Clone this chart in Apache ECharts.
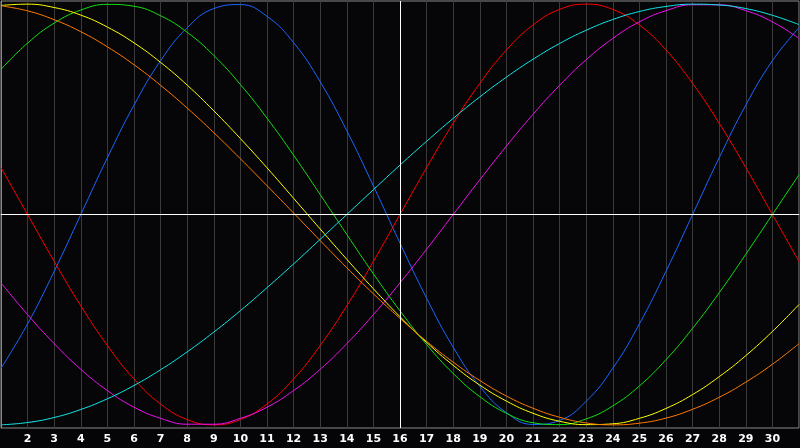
<!DOCTYPE html>
<html>
<head>
<meta charset="utf-8">
<script src="https://cdn.jsdelivr.net/npm/echarts@6/dist/echarts.min.js"></script>
<style>
html,body{margin:0;padding:0;background:#050507;}
#c{width:800px;height:448px;}
</style>
</head>
<body>
<div id="c"></div>
<script>
// days of the month (x values)
var days = [1,2,3,4,5,6,7,8,9,10,11,12,13,14,15,16,17,18,19,20,21,22,23,24,25,26,27,28,29,30,31];

var physical = [-0.731,-0.520,-0.270,0,0.270,0.520,0.731,0.888,0.979,0.998,0.942,0.817,0.631,0.398,0.136,-0.136,-0.398,-0.631,-0.817,-0.942,-0.998,-0.979,-0.888,-0.731,-0.520,-0.270,0,0.270,0.520,0.731,0.888];
var emotional = [0.223,0,-0.223,-0.434,-0.623,-0.782,-0.901,-0.975,-1,-0.975,-0.901,-0.782,-0.623,-0.434,-0.223,0,0.223,0.434,0.623,0.782,0.901,0.975,1,0.975,0.901,0.782,0.623,0.434,0.223,0,-0.223];
var intellectual = [0.690,0.815,0.910,0.972,0.999,0.990,0.945,0.866,0.756,0.618,0.458,0.282,0.095,-0.095,-0.282,-0.458,-0.618,-0.756,-0.866,-0.945,-0.990,-0.999,-0.972,-0.910,-0.815,-0.690,-0.541,-0.372,-0.189,0,0.189];
var intuitive = [-0.325,-0.476,-0.614,-0.736,-0.837,-0.916,-0.969,-0.997,-0.997,-0.969,-0.916,-0.837,-0.736,-0.614,-0.476,-0.325,-0.165,0,0.165,0.325,0.476,0.614,0.736,0.837,0.916,0.969,0.997,0.997,0.969,0.916,0.837];
var aesthetic = [0.994,1.000,0.984,0.948,0.891,0.816,0.723,0.615,0.493,0.361,0.222,0.077,-0.069,-0.213,-0.353,-0.486,-0.608,-0.717,-0.811,-0.887,-0.945,-0.983,-0.999,-0.995,-0.969,-0.922,-0.856,-0.771,-0.671,-0.556,-0.428];
var awareness = [0.992,0.968,0.926,0.869,0.797,0.712,0.614,0.506,0.389,0.265,0.137,0.007,-0.124,-0.253,-0.377,-0.494,-0.603,-0.702,-0.789,-0.863,-0.921,-0.964,-0.991,-1.000,-0.992,-0.968,-0.926,-0.869,-0.797,-0.712,-0.614];
var spiritual = [-1.000,-0.989,-0.965,-0.927,-0.876,-0.813,-0.738,-0.653,-0.559,-0.457,-0.348,-0.235,-0.118,0,0.118,0.235,0.348,0.457,0.559,0.653,0.738,0.813,0.876,0.927,0.965,0.989,1.000,0.996,0.979,0.947,0.903];

var seriesDefs = [
  {name:'Physical', data:physical, color:'#1a66ff'},
  {name:'Emotional', data:emotional, color:'#ff0000'},
  {name:'Intellectual', data:intellectual, color:'#10e010'},
  {name:'Intuitive', data:intuitive, color:'#f010f0'},
  {name:'Aesthetic', data:aesthetic, color:'#ffff00'},
  {name:'Awareness', data:awareness, color:'#ff7a00'},
  {name:'Spiritual', data:spiritual, color:'#10e8e8'}
];

var chart = echarts.init(document.getElementById('c'), null, {renderer:'canvas'});

var series = seriesDefs.map(function(s){
  return {
    name: s.name,
    type: 'line',
    smooth: 0.45,
    symbol: 'none',
    silent: true,
    data: days.map(function(d,i){ return [d, s.data[i]]; }),
    lineStyle: {color: s.color, width: 1},
    itemStyle: {color: s.color},
    z: 3
  };
});

series.push({
  type: 'line',
  data: [],
  silent: true,
  markLine: {
    silent: true,
    symbol: 'none',
    label: {show: false},
    animation: false,
    lineStyle: {color: '#ffffff', width: 1, type: 'solid'},
    data: [{xAxis: 16}, {yAxis: 0}]
  },
  z: 2
});

chart.setOption({
  animation: false,
  backgroundColor: '#050507',
  grid: {
    left: 1, right: 1, top: 1, height: 427,
    show: true,
    backgroundColor: '#060609',
    borderColor: '#8a8a8a',
    borderWidth: 1
  },
  xAxis: {
    type: 'value',
    min: 1, max: 31, interval: 1,
    axisLine: {show: true, lineStyle: {color: '#9a9a9a', width: 1}},
    axisTick: {show: false},
    splitLine: {show: true, lineStyle: {color: '#3a3a3a', width: 1}},
    axisLabel: {
      show: true,
      showMinLabel: false,
      showMaxLabel: false,
      color: '#ffffff',
      fontWeight: 'bold',
      fontSize: 11,
      fontFamily: 'DejaVu Sans',
      margin: 6
    }
  },
  yAxis: {
    type: 'value',
    min: -1.015, max: 1.015,
    axisLine: {show: true, lineStyle: {color: '#8a8a8a'}},
    axisTick: {show: false},
    axisLabel: {show: false},
    splitLine: {show: false}
  },
  series: series
});
</script>
</body>
</html>
